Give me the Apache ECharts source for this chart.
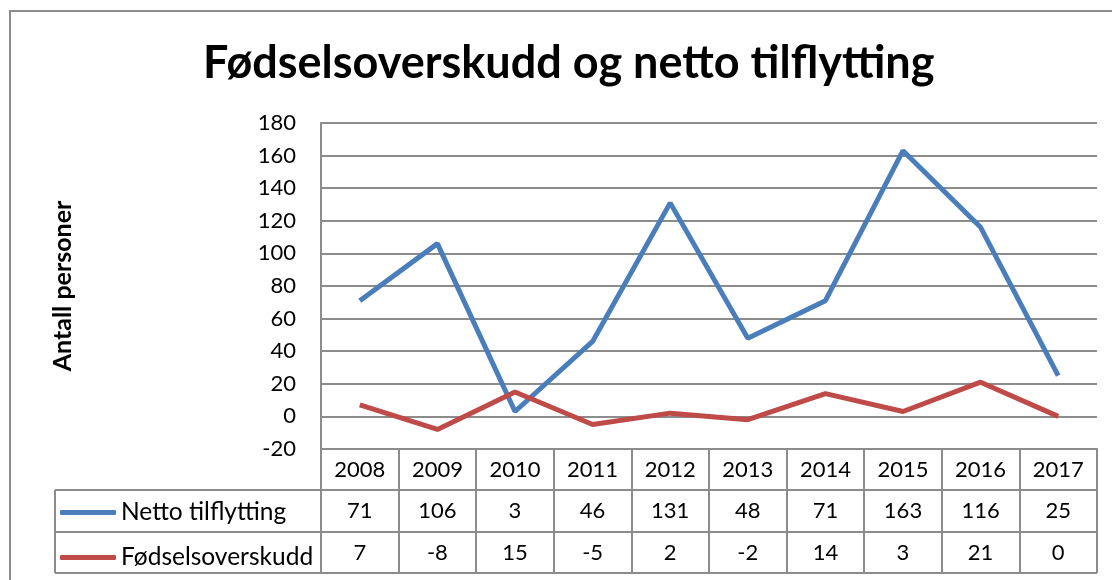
<!DOCTYPE html>
<html>
<head>
<meta charset="utf-8">
<script src="https://cdn.jsdelivr.net/npm/echarts@6/dist/echarts.min.js"></script>
<style>
  html, body { margin: 0; padding: 0; background: #fff; }
  #main { width: 1112px; height: 580px; }
</style>
</head>
<body>
<div id="main"></div>
<script>
var years = ['2008', '2009', '2010', '2011', '2012', '2013', '2014', '2015', '2016', '2017'];
var netto = [71, 106, 3, 46, 131, 48, 71, 163, 116, 25];
var fodsel = [7, -8, 15, -5, 2, -2, 14, 3, 21, 0];
var yTicks = [-20, 180, 20]; // min, max, step

var dom = document.getElementById('main');
var myChart = echarts.init(dom);
var font = 'Lato, "Open Sans", sans-serif';
var gray = '#8c8c8c';

// table lines left of / under the plot
var L = 55, R = 1097;
var rowLines = [490, 532, 573];

option = {
    animation: false,
    textStyle: { fontFamily: font },
    title: {
        text: 'Fødselsoverskudd og netto tilflytting',
        left: 203,
        top: 41,
        padding: 0,
        textStyle: { fontSize: 45, fontWeight: 'bold', color: '#000', fontFamily: font }
    },
    legend: {
        orient: 'vertical',
        left: 60,
        top: 500,
        padding: 0,
        itemGap: 20,
        itemWidth: 56,
        itemHeight: 5,
        icon: 'roundRect',
        textStyle: { fontSize: 24.5, color: '#000', lineHeight: 21, fontFamily: font },
        data: ['Netto tilflytting', 'Fødselsoverskudd']
    },
    grid: { left: 321, right: 15, top: 123, bottom: 131 },
    xAxis: {
        type: 'category',
        data: years,
        boundaryGap: true,
        axisLine: { show: true, onZero: false, lineStyle: { color: gray, width: 2 } },
        axisTick: { show: true, length: 124, lineStyle: { color: gray, width: 2 } },
        axisLabel: {
            margin: 0,
            interval: 0,
            fontSize: 22,
            color: '#000',
            lineHeight: 41.5,
            fontFamily: font,
            formatter: function (v, i) {
                return v + '\n' + netto[i] + '\n' + fodsel[i];
            }
        }
    },
    yAxis: {
        type: 'value',
        min: yTicks[0],
        max: yTicks[1],
        interval: yTicks[2],
        name: 'Antall personer',
        nameLocation: 'middle',
        nameRotate: 90,
        nameGap: 246,
        nameTextStyle: { fontSize: 25, fontWeight: 'bold', color: '#000', fontFamily: font },
        axisLine: { show: true, lineStyle: { color: gray, width: 2 } },
        axisTick: { show: false },
        axisLabel: { fontSize: 22, color: '#000', margin: 25, fontFamily: font },
        splitLine: { lineStyle: { color: gray, width: 2 } }
    },
    graphic: [
        {
            type: 'rect',
            shape: { x: 10, y: 11, width: 1200, height: 700 },
            style: { fill: null, stroke: gray, lineWidth: 2 },
            silent: true
        },
        {
            type: 'line',
            shape: { x1: L, y1: rowLines[0], x2: L, y2: rowLines[2] },
            style: { stroke: gray, lineWidth: 2 }
        }
    ].concat(rowLines.map(function (y) {
        return {
            type: 'line',
            shape: { x1: L, y1: y, x2: R, y2: y },
            style: { stroke: gray, lineWidth: 2 }
        };
    })),
    series: [
        {
            name: 'Netto tilflytting',
            type: 'line',
            data: netto,
            showSymbol: false,
            color: '#4a7ebb',
            lineStyle: { width: 5, color: '#4a7ebb' }
        },
        {
            name: 'Fødselsoverskudd',
            type: 'line',
            data: fodsel,
            showSymbol: false,
            color: '#be4b48',
            lineStyle: { width: 5, color: '#be4b48' }
        }
    ]
};

if (option && typeof option === 'object') {
    myChart.setOption(option, true);
}
</script>
</body>
</html>
